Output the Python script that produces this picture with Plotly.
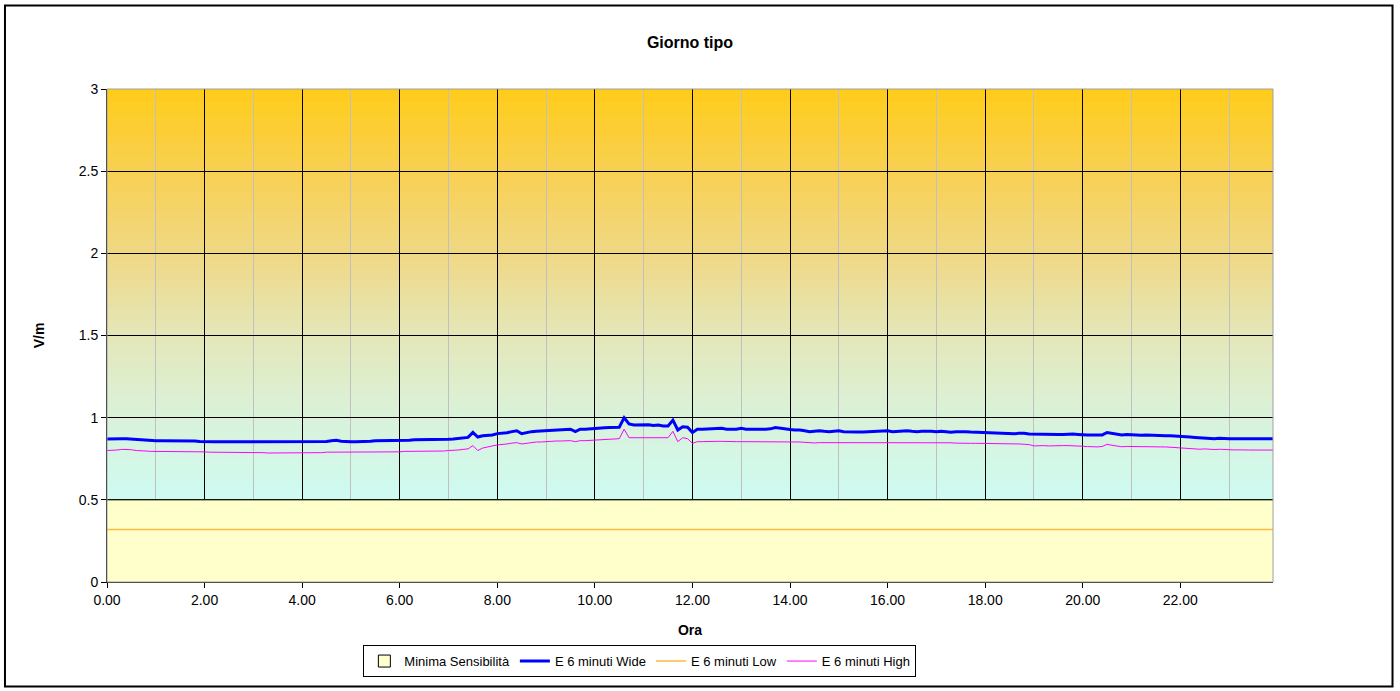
import plotly.graph_objects as go

# ---- data (6-minute samples, 10 per hour, 0.0 .. 23.9 h) ----
hours = [round(i * 0.1, 1) for i in range(240)]

wide = [
    0.870, 0.872, 0.872, 0.872, 0.872, 0.870, 0.866, 0.864, 0.860, 0.860,
    0.860, 0.860, 0.860, 0.860, 0.860, 0.860, 0.860, 0.860, 0.858, 0.855,
    0.853, 0.853, 0.853, 0.853, 0.853, 0.853, 0.853, 0.853, 0.853, 0.853,
    0.853, 0.853, 0.853, 0.853, 0.853, 0.853, 0.853, 0.853, 0.853, 0.853,
    0.853, 0.853, 0.853, 0.853, 0.853, 0.855, 0.860, 0.862, 0.857, 0.853,
    0.853, 0.853, 0.853, 0.853, 0.856, 0.860, 0.860, 0.860, 0.860, 0.860,
    0.860, 0.862, 0.862, 0.865, 0.865, 0.865, 0.865, 0.865, 0.866, 0.866,
    0.868, 0.870, 0.872, 0.875, 0.880, 0.910, 0.882, 0.890, 0.893, 0.895,
    0.903, 0.905, 0.908, 0.915, 0.920, 0.902, 0.910, 0.915, 0.918, 0.920,
    0.924, 0.925, 0.928, 0.930, 0.932, 0.930, 0.915, 0.930, 0.930, 0.933,
    0.935, 0.938, 0.938, 0.940, 0.940, 0.942, 1.000, 0.962, 0.955, 0.955,
    0.955, 0.957, 0.952, 0.955, 0.950, 0.950, 0.985, 0.925, 0.945, 0.942,
    0.910, 0.930, 0.930, 0.932, 0.930, 0.932, 0.935, 0.930, 0.930, 0.930,
    0.935, 0.930, 0.930, 0.928, 0.930, 0.930, 0.932, 0.940, 0.935, 0.930,
    0.928, 0.925, 0.925, 0.920, 0.915, 0.918, 0.920, 0.917, 0.915, 0.918,
    0.920, 0.915, 0.913, 0.915, 0.913, 0.913, 0.915, 0.913, 0.917, 0.920,
    0.920, 0.915, 0.918, 0.920, 0.920, 0.917, 0.915, 0.918, 0.920, 0.918,
    0.915, 0.918, 0.915, 0.912, 0.915, 0.917, 0.915, 0.913, 0.912, 0.910,
    0.910, 0.905, 0.905, 0.907, 0.903, 0.905, 0.902, 0.905, 0.905, 0.900,
    0.900, 0.898, 0.898, 0.900, 0.902, 0.898, 0.897, 0.900, 0.900, 0.898,
    0.895, 0.895, 0.895, 0.893, 0.895, 0.910, 0.905, 0.900, 0.895, 0.897,
    0.895, 0.893, 0.893, 0.894, 0.892, 0.893, 0.890, 0.890, 0.890, 0.887,
    0.885, 0.885, 0.882, 0.880, 0.878, 0.878, 0.875, 0.872, 0.875, 0.872,
    0.872, 0.872, 0.872, 0.872, 0.872, 0.872, 0.871, 0.872, 0.871, 0.872,
]

high = [
    0.800, 0.800, 0.803, 0.807, 0.807, 0.805, 0.800, 0.800, 0.797, 0.795,
    0.795, 0.795, 0.792, 0.792, 0.792, 0.792, 0.792, 0.792, 0.792, 0.792,
    0.792, 0.790, 0.790, 0.790, 0.790, 0.790, 0.790, 0.790, 0.790, 0.790,
    0.788, 0.787, 0.787, 0.785, 0.785, 0.785, 0.785, 0.785, 0.785, 0.785,
    0.785, 0.785, 0.785, 0.785, 0.787, 0.790, 0.790, 0.790, 0.790, 0.790,
    0.790, 0.790, 0.790, 0.790, 0.790, 0.790, 0.790, 0.790, 0.790, 0.790,
    0.792, 0.795, 0.795, 0.795, 0.795, 0.797, 0.797, 0.797, 0.797, 0.797,
    0.800, 0.800, 0.803, 0.807, 0.810, 0.830, 0.800, 0.815, 0.823, 0.828,
    0.834, 0.836, 0.840, 0.845, 0.848, 0.840, 0.845, 0.850, 0.852, 0.852,
    0.855, 0.856, 0.858, 0.858, 0.860, 0.860, 0.854, 0.860, 0.860, 0.862,
    0.864, 0.866, 0.868, 0.870, 0.870, 0.872, 0.930, 0.878, 0.878, 0.878,
    0.878, 0.878, 0.878, 0.878, 0.878, 0.878, 0.917, 0.854, 0.878, 0.872,
    0.844, 0.854, 0.854, 0.856, 0.854, 0.856, 0.856, 0.854, 0.856, 0.854,
    0.854, 0.854, 0.856, 0.854, 0.856, 0.854, 0.855, 0.856, 0.854, 0.854,
    0.854, 0.854, 0.852, 0.850, 0.846, 0.846, 0.848, 0.848, 0.846, 0.848,
    0.848, 0.848, 0.846, 0.848, 0.850, 0.848, 0.846, 0.848, 0.846, 0.848,
    0.848, 0.846, 0.847, 0.850, 0.848, 0.847, 0.849, 0.847, 0.846, 0.848,
    0.850, 0.848, 0.846, 0.847, 0.845, 0.846, 0.846, 0.844, 0.844, 0.844,
    0.843, 0.843, 0.842, 0.842, 0.840, 0.840, 0.840, 0.840, 0.838, 0.836,
    0.828, 0.830, 0.830, 0.828, 0.830, 0.832, 0.830, 0.830, 0.830, 0.828,
    0.826, 0.824, 0.822, 0.822, 0.825, 0.838, 0.832, 0.826, 0.823, 0.825,
    0.824, 0.823, 0.824, 0.822, 0.823, 0.822, 0.822, 0.822, 0.820, 0.818,
    0.815, 0.812, 0.810, 0.810, 0.808, 0.810, 0.806, 0.806, 0.808, 0.805,
    0.805, 0.804, 0.806, 0.804, 0.803, 0.804, 0.804, 0.803, 0.803, 0.803,
]

low_level = 0.32
low = [low_level for _ in hours]
min_sens_level = 0.5
min_sens = [min_sens_level for _ in hours]

x_tickvals = [0, 2, 4, 6, 8, 10, 12, 14, 16, 18, 20, 22]
x_ticktext = ["0.00", "2.00", "4.00", "6.00", "8.00", "10.00", "12.00",
              "14.00", "16.00", "18.00", "20.00", "22.00"]
y_tickvals = [0, 0.5, 1, 1.5, 2, 2.5, 3]
y_ticktext = ["0", "0.5", "1", "1.5", "2", "2.5", "3"]

FONT = "Liberation Sans, Arial, sans-serif"

fig = go.Figure()

# legend-only entry so the legend shows a filled box like the original
fig.add_trace(go.Bar(
    x=[None], y=[None], name="Minima Sensibilità",
    marker=dict(color="#FFFFCC", line=dict(color="#000000", width=1)),
    legendrank=1))
fig.add_trace(go.Scatter(
    x=hours, y=min_sens, name="Minima Sensibilità", mode="lines",
    fill="tozeroy", fillcolor="#FFFFCC", showlegend=False,
    line=dict(color="#000000", width=1), hoverinfo="skip"))
fig.add_trace(go.Scatter(
    x=hours, y=wide, name="E 6 minuti Wide", mode="lines",
    line=dict(color="#0000FF", width=3), legendrank=2))
fig.add_trace(go.Scatter(
    x=hours, y=low, name="E 6 minuti Low", mode="lines",
    line=dict(color="#FFB83F", width=1.5), legendrank=3))
fig.add_trace(go.Scatter(
    x=hours, y=high, name="E 6 minuti High", mode="lines",
    line=dict(color="#FF00FF", width=1), legendrank=4))

# ---- background gradient of the plot area (decoration) ----
stops = [(0.5, (206, 251, 242)), (1.0, (218, 242, 218)), (1.5, (228, 231, 185)),
         (2.0, (240, 216, 132)), (2.5, (248, 208, 82)), (3.0, (255, 204, 26))]

def col_at(v):
    for (v0, c0), (v1, c1) in zip(stops[:-1], stops[1:]):
        if v0 <= v <= v1:
            t = (v - v0) / (v1 - v0)
            return "rgb(%d,%d,%d)" % tuple(round(a + (b - a) * t) for a, b in zip(c0, c1))
    return "rgb(%d,%d,%d)" % stops[-1][1]

shapes = []
n = 60
for i in range(n):
    y0 = 0.5 + 2.5 * i / n
    y1 = 0.5 + 2.5 * (i + 1) / n
    shapes.append(dict(type="rect", xref="x domain", yref="y",
                       x0=0, x1=1, y0=y0, y1=y1 + 0.005,
                       fillcolor=col_at((y0 + y1) / 2), line=dict(width=0),
                       layer="below"))
# plot area border (grey) and outer chart border (black)
shapes.append(dict(type="rect", xref="x domain", yref="y domain", x0=0, x1=1, y0=0, y1=1,
                   line=dict(color="#A0A0A0", width=1), layer="above"))
shapes.append(dict(type="rect", xref="paper", yref="paper",
                   x0=-0.0875, x1=1.1025, y0=-0.212, y1=1.1695,
                   line=dict(color="#000000", width=2), layer="above"))

fig.update_layout(
    width=1400, height=691,
    margin=dict(l=107, r=127, t=89, b=109),
    paper_bgcolor="white", plot_bgcolor="rgba(0,0,0,0)",
    font=dict(family=FONT, size=14, color="#000000"),
    title=dict(text="<b>Giorno tipo</b>", x=690 / 1400, xanchor="center",
               y=1 - 42 / 691, yanchor="middle", font=dict(size=16, family=FONT)),
    shapes=shapes,
    showlegend=True,
    legend=dict(orientation="h", x=0.457, xanchor="center", y=-0.128, yanchor="top",
                bordercolor="#000000", borderwidth=1, bgcolor="white",
                font=dict(size=13, family=FONT), itemwidth=30,
                tracegroupgap=0, traceorder="normal"),
)

fig.update_xaxes(
    range=[0, 23.9], tickmode="array", tickvals=x_tickvals, ticktext=x_ticktext,
    showgrid=True, gridcolor="#000000", gridwidth=1,
    minor=dict(dtick=1, tick0=0, showgrid=True, gridcolor="#C0C0C0", gridwidth=1),
    showline=True, linecolor="#000000", linewidth=1,
    ticks="outside", ticklen=5, tickcolor="#000000",
    zeroline=False,
    title=dict(text="<b>Ora</b>", font=dict(size=14, family=FONT), standoff=18),
    tickfont=dict(size=14, family=FONT),
)
fig.update_yaxes(
    range=[0, 3], tickmode="array", tickvals=y_tickvals, ticktext=y_ticktext,
    showgrid=True, gridcolor="#000000", gridwidth=1,
    showline=True, linecolor="#000000", linewidth=1,
    ticks="outside", ticklen=5, tickcolor="#000000",
    zeroline=False,
    title=dict(text="<b>V/m</b>", font=dict(size=14, family=FONT), standoff=30),
    tickfont=dict(size=14, family=FONT),
)

fig.write_html("out.html", config={"displayModeBar": False},
               post_script="document.body.style.margin='0';")
